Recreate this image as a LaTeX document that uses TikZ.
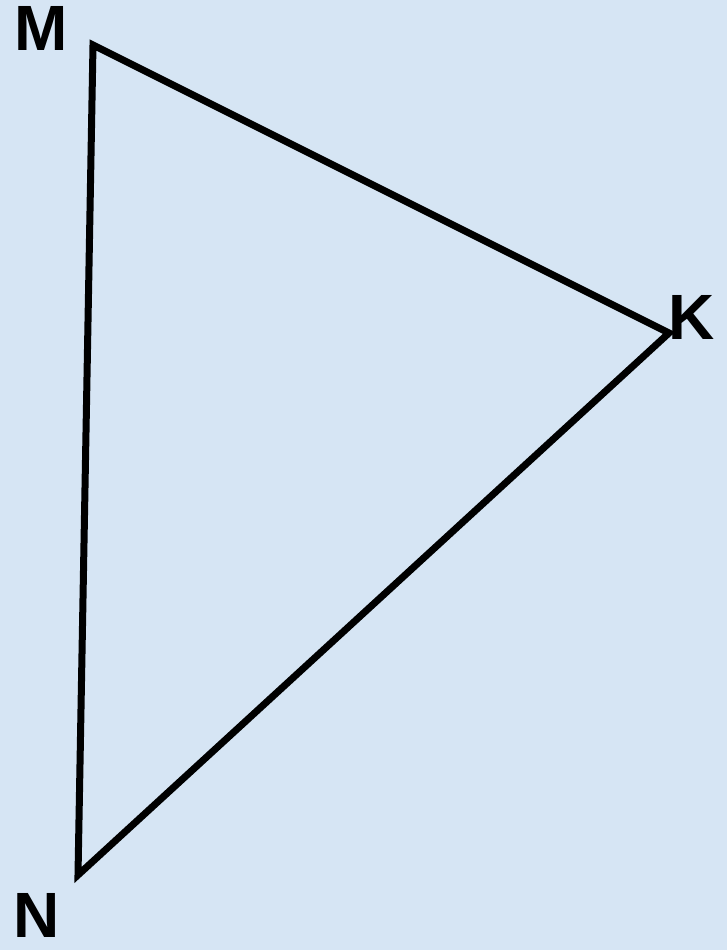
\documentclass[tikz,border=0pt]{standalone}
\usepackage{fontspec}
\setmainfont{Liberation Sans}
\definecolor{bgblue}{RGB}{214,229,244}
\tikzset{
  edge/.style={line width=7pt, line join=miter, black},
  vlabel/.style={inner sep=0pt, font=\fontsize{64}{64}\selectfont\bfseries}
}
\begin{document}
\begin{tikzpicture}[x=1pt,y=-1pt]
\fill[bgblue] (0,0) rectangle (727,950);
\useasboundingbox (0,0) rectangle (727,950);
\coordinate (M) at (93,45);
\coordinate (K) at (669,333);
\coordinate (N) at (78,875);
\draw[edge] (M) -- (K) -- (N) -- cycle;
\node[vlabel] (lm) at (41,28) {M};
\node[vlabel] (lk) at (692,317) {K};
\node[vlabel] (ln) at (37,915) {N};
\end{tikzpicture}
\end{document}
